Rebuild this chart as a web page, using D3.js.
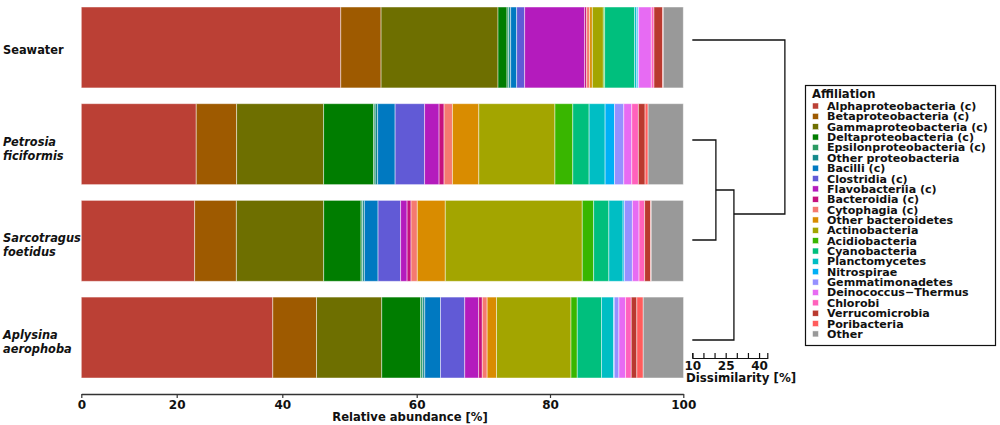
<!DOCTYPE html>
<html>
<head>
<meta charset="utf-8">
<script src="https://cdn.jsdelivr.net/npm/d3@7"></script>
<style>
body { margin: 0; background: #fff; }
text { font-family: "DejaVu Sans", Verdana, sans-serif; font-weight: bold; }
</style>
</head>
<body>
<script>
const samples = ["Seawater", "Petrosia ficiformis", "Sarcotragus foetidus", "Aplysina aerophoba"];

const taxa = ["Alphaproteobacteria (c)", "Betaproteobacteria (c)", "Gammaproteobacteria (c)",
    "Deltaproteobacteria (c)", "Epsilonproteobacteria (c)", "Other proteobacteria", "Bacilli (c)",
    "Clostridia (c)", "Flavobacteriia (c)", "Bacteroidia (c)", "Cytophagia (c)", "Other bacteroidetes",
    "Actinobacteria", "Acidiobacteria", "Cyanobacteria", "Planctomycetes", "Nitrospirae",
    "Gemmatimonadetes", "Deinococcus\u2212Thermus", "Chlorobi", "Verrucomicrobia", "Poribacteria", "Other"];

const taxaColors = ["#bb4035", "#9e5a00", "#6e6f00", "#007d00", "#2a9a62", "#14898b", "#0079c1",
    "#615ad6", "#b41bbd", "#c6117e", "#f57a70", "#d98c00", "#a3a500", "#39b600", "#00bf7d",
    "#00bec4", "#00b0f6", "#9590ff", "#e76bf3", "#ff62bc", "#b9392f", "#ff5c5c", "#999999"];

// relative abundance [%], same order as taxa
const seawater    = [48.7, 6.0, 17.5, 1.35, 0.25, 0.3, 0.9, 1.2, 9.0, 0.3, 0.45, 0.4, 1.65, 0.2, 4.5, 0.3, 0.2, 0.1, 1.9, 0.4, 1.3, 0.1, 3.0];
const petrosia    = [23.7, 7.65, 14.8, 7.45, 0.22, 0.37, 2.6, 4.4, 2.17, 0.75, 1.25, 3.96, 11.42, 2.68, 2.45, 2.4, 1.42, 1.38, 1.2, 0.99, 1.01, 0.45, 5.28];
const sarcotragus = [23.4, 7.9, 14.86, 5.56, 0.22, 0.27, 2.04, 3.36, 0.96, 0.59, 0.93, 4.2, 20.55, 1.71, 2.28, 2.13, 0.2, 1.2, 1.0, 0.84, 0.89, 0.1, 4.82];
const aplysina    = [38.2, 6.9, 9.7, 5.8, 0.31, 0.3, 2.36, 3.64, 2.09, 0.54, 0.73, 1.41, 11.17, 0.94, 3.63, 1.8, 0.12, 0.7, 1.0, 0.85, 0.84, 0.96, 6.05];

const xTicks = [0, 20, 40, 60, 80, 100];
const dissimTicks = [10, 15, 20, 25, 30, 35, 40];
const dissimLabels = [10, 25, 40];

// dendrogram merges: heights in % dissimilarity, pos = leaf-order position of the outgoing link
const merges = [
    {id: "n1", children: ["Petrosia ficiformis", "Sarcotragus foetidus"], height: 20.6, pos: 1.5},
    {id: "n2", children: ["n1", "Aplysina aerophoba"], height: 28.7, pos: 1.74},
    {id: "n3", children: ["Seawater", "n2"], height: 51.6, pos: 0.9}
];

function main(){
    const width = 1000;
    const height = 425;

    const svg = d3.select("body")
        .append("svg")
        .attr("width", width)
        .attr("height", height)
        .attr("style", "background-color: white");

    const abundance = [seawater, petrosia, sarcotragus, aplysina];
    const rows = samples.map((s, i) => {
        const r = {sample: s};
        taxa.forEach((t, j) => r[t] = abundance[i][j]);
        return r;
    });

    const series = d3.stack().keys(taxa)(rows);

    const xScale = d3.scaleLinear()
        .domain(xTicks)
        .range([81.3, 176.7, 282.3, 416.7, 550, 683.3]);

    const yScale = d3.scaleBand()
        .domain(samples)
        .range([7, 378])
        .paddingInner(0.163);

    const color = d3.scaleOrdinal().domain(taxa).range(taxaColors);

    // stacked bars
    svg.append("g")
        .selectAll("g")
        .data(series)
        .join("g")
        .attr("fill", d => color(d.key))
        .selectAll("rect")
        .data(d => d)
        .join("rect")
        .attr("x", d => xScale(d[0]))
        .attr("y", d => yScale(d.data.sample))
        .attr("width", d => xScale(d[1]) - xScale(d[0]))
        .attr("height", yScale.bandwidth())
        .attr("stroke", "white")
        .attr("stroke-opacity", 0.5)
        .attr("stroke-width", 0.9);

    // sample labels
    const labels = svg.append("g");
    samples.forEach(s => {
        const words = s.split(" ");
        const c = yScale(s) + yScale.bandwidth() / 2;
        const t = labels.append("text")
            .attr("x", 3)
            .attr("font-size", "11.4px")
            .attr("fill", "#111");
        if (words.length === 1) {
            t.attr("y", c + 7).text(s);
        } else {
            t.attr("font-style", "italic");
            t.append("tspan").attr("x", 3).attr("y", c + 1.5).text(words[0]);
            t.append("tspan").attr("x", 3).attr("y", c + 15.5).text(words[1]);
        }
    });

    // x axis
    const xAxis = svg.append("g")
        .attr("transform", "translate(0,394)")
        .call(d3.axisBottom(xScale).tickValues(xTicks).tickSize(4).tickSizeOuter(0).tickPadding(2));
    xAxis.select(".domain").attr("stroke", "#333").attr("stroke-width", 1.4);
    xAxis.selectAll(".tick line").attr("stroke", "#333").attr("stroke-width", 1.2);
    xAxis.selectAll(".tick text").attr("font-size", "12px").attr("fill", "#111")
        .attr("font-family", "DejaVu Sans").attr("font-weight", "bold");

    svg.append("text")
        .attr("x", 410)
        .attr("y", 421)
        .attr("text-anchor", "middle")
        .attr("font-size", "11.6px")
        .attr("fill", "#111")
        .text("Relative abundance [%]");

    // dendrogram
    const dX = d3.scaleLinear().domain([10, 43.7]).range([692.3, 767.3]);
    const dY = d3.scaleLinear().domain([0, 3]).range([40, 340]);

    const nodes = {};
    samples.forEach((s, i) => nodes[s] = {h: 10, pos: i});
    merges.forEach(m => nodes[m.id] = {h: m.height, pos: m.pos});

    const dendro = svg.append("g")
        .attr("fill", "none")
        .attr("stroke", "#111")
        .attr("stroke-width", 1.3);

    merges.forEach(m => {
        const a = nodes[m.children[0]];
        const b = nodes[m.children[1]];
        const path = d3.path();
        path.moveTo(dX(a.h), dY(a.pos));
        path.lineTo(dX(m.height), dY(a.pos));
        path.lineTo(dX(m.height), dY(b.pos));
        path.lineTo(dX(b.h), dY(b.pos));
        dendro.append("path").attr("d", path.toString());
    });

    const dAxis = svg.append("g")
        .attr("transform", "translate(0,358)")
        .call(d3.axisBottom(dX).tickValues(dissimTicks).tickSize(-5).tickSizeOuter(-5).tickPadding(3)
            .tickFormat(d => dissimLabels.includes(d) ? d : ""));
    dAxis.select(".domain").attr("stroke", "#111").attr("stroke-width", 1.2);
    dAxis.selectAll(".tick line").attr("stroke", "#111").attr("stroke-width", 1.2);
    dAxis.selectAll(".tick text").attr("font-size", "12px").attr("fill", "#111")
        .attr("font-family", "DejaVu Sans").attr("font-weight", "bold");

    svg.append("text")
        .attr("x", 686)
        .attr("y", 382)
        .attr("font-size", "11.8px")
        .attr("fill", "#111")
        .text("Dissimilarity [%]");

    // legend
    const legend = svg.append("g");
    legend.append("rect")
        .attr("x", 805.5)
        .attr("y", 85.5)
        .attr("width", 190)
        .attr("height", 260)
        .attr("fill", "white")
        .attr("stroke", "#111")
        .attr("stroke-width", 1.2);
    legend.append("text")
        .attr("x", 812)
        .attr("y", 98)
        .attr("font-size", "11.6px")
        .attr("fill", "#111")
        .text("Affiliation");

    const item = legend.selectAll(".item")
        .data(taxa)
        .join("g")
        .attr("class", "item")
        .attr("transform", (d, i) => `translate(812,${106 + i * 10.36})`);
    item.append("rect")
        .attr("x", 0.5)
        .attr("y", -3)
        .attr("width", 6)
        .attr("height", 6)
        .attr("fill", d => color(d))
        .attr("stroke", "white")
        .attr("stroke-width", 0.5);
    item.append("text")
        .attr("x", 15)
        .attr("dy", "0.36em")
        .attr("font-size", "11.1px")
        .attr("fill", "#111")
        .text(d => d);
}

main()
</script>
</body>
</html>
